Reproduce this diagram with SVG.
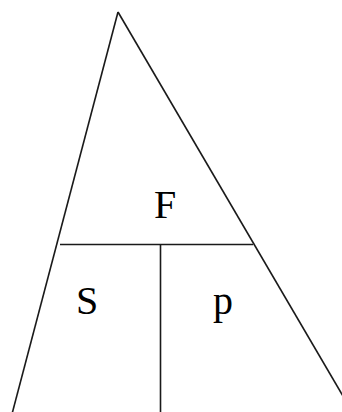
<svg xmlns="http://www.w3.org/2000/svg" width="342" height="412" viewBox="0 0 342 412">
<style>
.ln{stroke:#1a1a1a;stroke-width:1.6;fill:none}
.t{font-family:"Liberation Serif",serif;font-size:40px;fill:#000;text-anchor:middle}
</style>
<rect width="342" height="412" fill="#fff"/>
<g id="connectors">
<line class="ln" x1="118" y1="12" x2="12" y2="414"/>
<line class="ln" x1="118" y1="12" x2="350" y2="408"/>
<line class="ln" x1="60" y1="244.5" x2="253" y2="244.5"/>
<line class="ln" x1="160.5" y1="244.5" x2="160.5" y2="412"/>
</g>
<g id="F"><text class="t" x="165" y="218">F</text></g>
<g id="S"><text class="t" x="87" y="314">S</text></g>
<g id="p"><text class="t" x="223" y="314">p</text></g>
</svg>
